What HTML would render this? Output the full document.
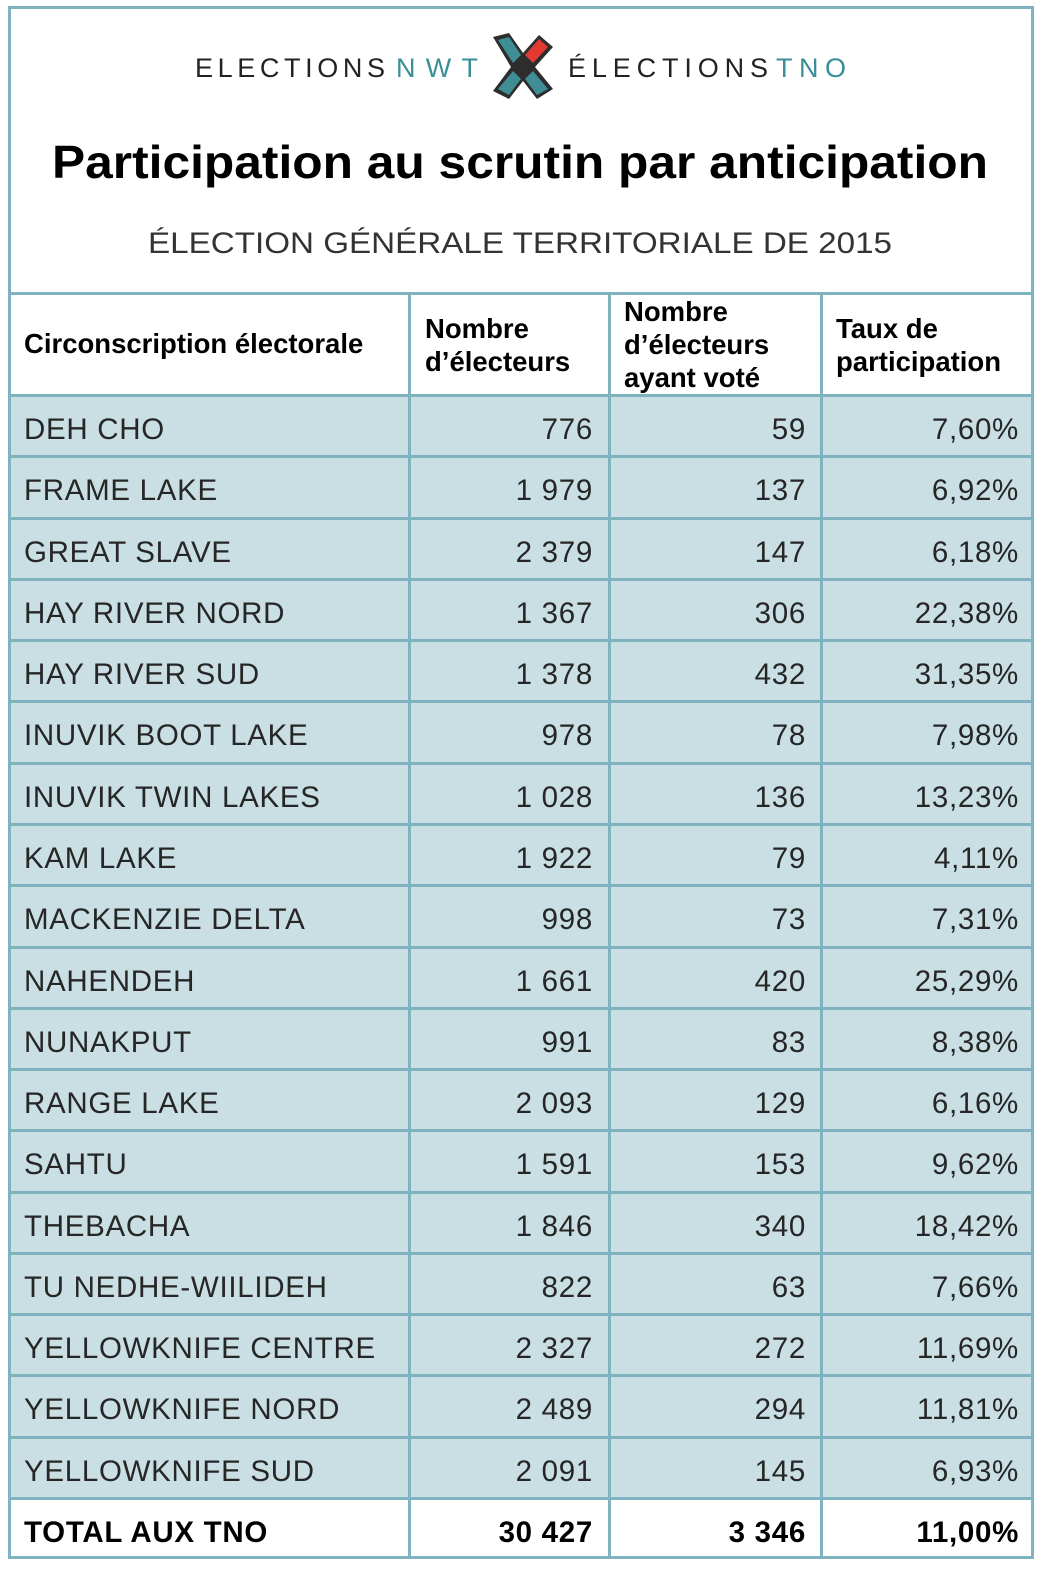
<!DOCTYPE html>
<html><head><meta charset="utf-8">
<style>
body{margin:0;background:#fff;}
#p{position:relative;width:1042px;height:1572px;overflow:hidden;font-family:"Liberation Sans",Arial,sans-serif;}
.r{position:absolute;left:10px;width:1022px;height:61px;background:#c9dfe4;}
.h{position:absolute;background:#7fb3bf;}
.t{position:absolute;font-size:29.5px;color:#262626;letter-spacing:0.7px;line-height:61px;white-space:nowrap;}
.n{text-align:right;}
.b{font-weight:bold;color:#000;}
.hd{position:absolute;font-size:27.5px;font-weight:bold;line-height:33px;color:#000;white-space:nowrap;}
</style></head><body><div id="p">
<svg style="position:absolute;left:0;top:0" width="1042" height="290">
 <text x="195" y="77" font-family="Liberation Sans" font-size="27" fill="#222" textLength="190" lengthAdjust="spacing">ELECTIONS</text>
 <text x="396" y="77" font-family="Liberation Sans" font-size="27" fill="#3a8f96" textLength="82" lengthAdjust="spacing">NWT</text>
 <text x="568" y="77" font-family="Liberation Sans" font-size="27" fill="#222" textLength="200" lengthAdjust="spacing">ÉLECTIONS</text>
 <text x="776" y="77" font-family="Liberation Sans" font-size="27" fill="#3a8f96" textLength="70" lengthAdjust="spacing">TNO</text>
 <g transform="translate(523,67)">
  <path d="M-30,-30 L-14,-34 L0,-14 L16,-32 L30,-20 L12,0 L30,22 L14,32 L0,14 L-14,32 L-30,24 L-12,0 Z" fill="#2d2d2d"/>
  <path d="M-25,-27 L-14,-30 L-2,-12 L-10,-4 Z" fill="#3f8e96"/>
  <path d="M2,-12 L16,-28 L25,-20 L10,-4 Z" fill="#e23a33"/>
  <path d="M-10,4 L-2,12 L-14,28 L-25,22 Z" fill="#3f8e96"/>
  <path d="M2,12 L10,4 L25,22 L14,28 Z" fill="#3f8e96"/>
 </g>
 <text x="52" y="178" font-family="Liberation Sans" font-weight="bold" font-size="46" fill="#000" textLength="936" lengthAdjust="spacingAndGlyphs">Participation au scrutin par anticipation</text>
 <text x="148" y="253" font-family="Liberation Sans" font-size="30" fill="#333" textLength="744" lengthAdjust="spacingAndGlyphs">ÉLECTION GÉNÉRALE TERRITORIALE DE 2015</text>
</svg>

<div class="hd" style="left:24px;top:327px;font-size:27.5px">Circonscription électorale</div>
<div class="hd" style="left:425px;top:312px">Nombre<br>d’électeurs</div>
<div class="hd" style="left:624px;top:295px">Nombre<br>d’électeurs<br>ayant voté</div>
<div class="hd" style="left:836px;top:312px">Taux de<br>participation</div>

<div id="rows"></div>
<script>
var d=[["DEH CHO","776","59","7,60%"],["FRAME LAKE","1 979","137","6,92%"],["GREAT SLAVE","2 379","147","6,18%"],["HAY RIVER NORD","1 367","306","22,38%"],["HAY RIVER SUD","1 378","432","31,35%"],["INUVIK BOOT LAKE","978","78","7,98%"],["INUVIK TWIN LAKES","1 028","136","13,23%"],["KAM LAKE","1 922","79","4,11%"],["MACKENZIE DELTA","998","73","7,31%"],["NAHENDEH","1 661","420","25,29%"],["NUNAKPUT","991","83","8,38%"],["RANGE LAKE","2 093","129","6,16%"],["SAHTU","1 591","153","9,62%"],["THEBACHA","1 846","340","18,42%"],["TU NEDHE-WIILIDEH","822","63","7,66%"],["YELLOWKNIFE CENTRE","2 327","272","11,69%"],["YELLOWKNIFE NORD","2 489","294","11,81%"],["YELLOWKNIFE SUD","2 091","145","6,93%"],["TOTAL AUX TNO","30 427","3 346","11,00%"]];
var h="",rh=61.28;
for(var i=0;i<d.length;i++){
 var y=Math.round(395+i*rh),tot=i==18,c=tot?" b":"";
 if(!tot)h+='<div class="r" style="top:'+y+'px"></div>';
 var ty=y+4;
 h+='<div class="t'+c+'" style="left:24px;top:'+ty+'px">'+d[i][0]+'</div>';
 h+='<div class="t n'+c+'" style="left:410px;width:183px;top:'+ty+'px">'+d[i][1]+'</div>';
 h+='<div class="t n'+c+'" style="left:610px;width:196px;top:'+ty+'px">'+d[i][2]+'</div>';
 h+='<div class="t n'+c+'" style="left:822px;width:197px;top:'+ty+'px">'+d[i][3]+'</div>';
 h+='<div class="h" style="left:9px;width:1024px;top:'+(y-1)+'px;height:3px"></div>';
}
h+='<div class="h" style="left:9px;width:1024px;top:292px;height:3px"></div>';
h+='<div class="h" style="left:408px;width:3px;top:292px;height:1267px"></div>';
h+='<div class="h" style="left:608px;width:3px;top:292px;height:1267px"></div>';
h+='<div class="h" style="left:820px;width:3px;top:292px;height:1267px"></div>';
h+='<div class="h" style="left:8px;width:3px;top:6px;height:1553px"></div>';
h+='<div class="h" style="left:1031px;width:3px;top:6px;height:1553px"></div>';
h+='<div class="h" style="left:8px;width:1026px;top:6px;height:3px"></div>';
h+='<div class="h" style="left:8px;width:1026px;top:1556px;height:3px"></div>';
document.getElementById("rows").innerHTML=h;
</script>
</div></body></html>
